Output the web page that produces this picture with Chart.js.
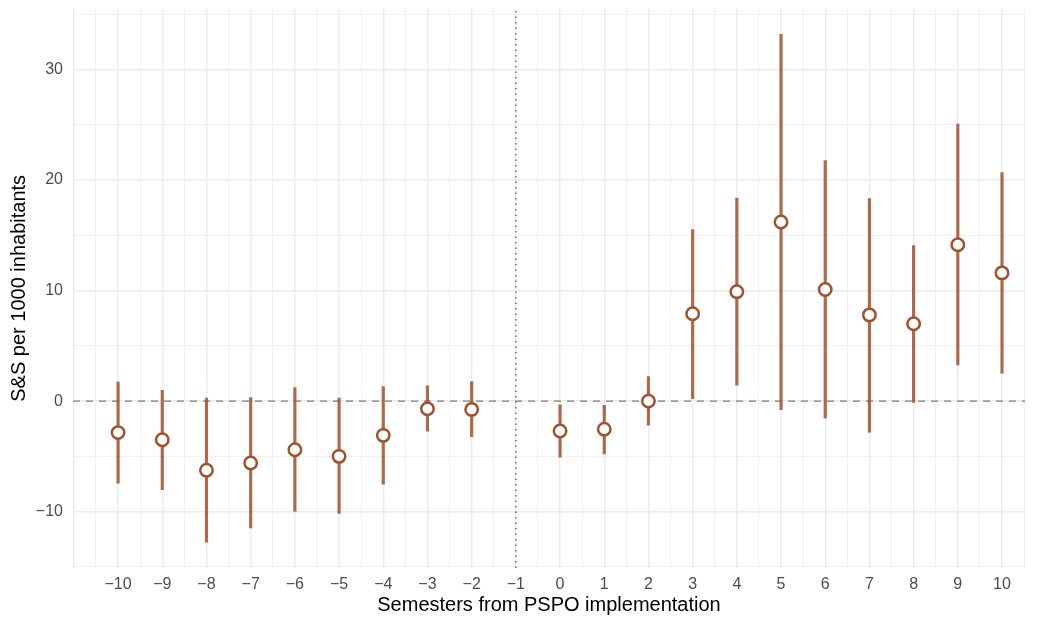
<!DOCTYPE html>
<html>
<head>
<meta charset="utf-8">
<script src="https://cdn.jsdelivr.net/npm/chart.js@4.4.1/dist/chart.umd.min.js"></script>
<style>
  html, body { margin: 0; padding: 0; background: #fff; }
  #wrap { width: 1039px; height: 618px; }
</style>
</head>
<body>
<div id="wrap"><canvas id="eventChart" width="1039" height="618"></canvas></div>
<script>
// semester offsets (no estimate at -1, the reference period)
const semesters = [-10, -9, -8, -7, -6, -5, -4, -3, -2, 0, 1, 2, 3, 4, 5, 6, 7, 8, 9, 10];
const estimates = [-2.85, -3.5, -6.25, -5.6, -4.4, -5.0, -3.1, -0.7, -0.75, -2.7, -2.55, 0.0, 7.9, 9.9, 16.2, 10.1, 7.8, 7.0, 14.15, 11.6];
const lowerCI   = [-7.45, -8.05, -12.8, -11.5, -10.0, -10.2, -7.55, -2.75, -3.25, -5.1, -4.8, -2.2, 0.2, 1.4, -0.8, -1.55, -2.85, -0.15, 3.25, 2.5];
const upperCI   = [1.75, 1.0, 0.3, 0.35, 1.25, 0.3, 1.35, 1.4, 1.8, -0.3, -0.35, 2.25, 15.55, 18.4, 33.2, 21.8, 18.35, 14.1, 25.1, 20.7];

const xTickValues = [-10, -9, -8, -7, -6, -5, -4, -3, -2, -1, 0, 1, 2, 3, 4, 5, 6, 7, 8, 9, 10];
const yTickValues = [-10, 0, 10, 20, 30];
const xRange = [-11.02, 10.52];
const yRange = [-15.1, 35.5];
const treatmentLine = -1;

const sienna = "#a0522d";
const barColor = "rgba(160, 82, 45, 0.85)";
const gridColor = "#ebebeb";
const textGrey = "#4d4d4d";

// error bars: one segment per semester, broken with null gaps
const ciSegments = [];
semesters.forEach((s, i) => {
  ciSegments.push({ x: s, y: lowerCI[i] });
  ciSegments.push({ x: s, y: upperCI[i] });
  ciSegments.push({ x: s, y: null });
});

// gridlines at every half step, labels only on the main ticks
function halfSteps(lo, hi, step) {
  const out = [];
  for (let v = lo; v <= hi + 1e-9; v += step) out.push({ value: Math.round(v * 100) / 100 });
  return out;
}
const minus = v => String(v).replace("-", "\u2212");

const font = "'Liberation Sans', Arial, Helvetica, sans-serif";

new Chart(document.getElementById("eventChart"), {
  type: "scatter",
  data: {
    datasets: [
      {
        label: "estimate",
        data: semesters.map((s, i) => ({ x: s, y: estimates[i] })),
        pointRadius: 6.2,
        pointHoverRadius: 6.2,
        pointBorderWidth: 2.5,
        pointBackgroundColor: "#ffffff",
        pointBorderColor: sienna,
        showLine: false,
        order: 0
      },
      {
        label: "ci",
        data: ciSegments,
        showLine: true,
        spanGaps: false,
        borderColor: barColor,
        borderWidth: 3.2,
        borderCapStyle: "butt",
        pointRadius: 0,
        order: 1
      },
      {
        label: "zero",
        data: [{ x: xRange[0], y: 0 }, { x: xRange[1], y: 0 }],
        showLine: true,
        borderColor: "#7f7f7f",
        borderWidth: 1.4,
        borderDash: [7, 6],
        pointRadius: 0,
        order: 2
      },
      {
        label: "treatment",
        data: [{ x: treatmentLine, y: yRange[0] }, { x: treatmentLine, y: yRange[1] }],
        showLine: true,
        borderColor: "#666666",
        borderWidth: 1.4,
        borderDash: [1.5, 4],
        pointRadius: 0,
        order: 2
      }
    ]
  },
  options: {
    responsive: false,
    animation: false,
    layout: { padding: { top: 6, right: 14, left: 0, bottom: 0 } },
    plugins: { legend: { display: false }, tooltip: { enabled: false } },
    scales: {
      x: {
        type: "linear",
        min: xRange[0],
        max: xRange[1],
        border: { display: false },
        afterBuildTicks: axis => { axis.ticks = halfSteps(-11, 10.5, 0.5); },
        afterFit: axis => {
          axis.height = 50;
          axis.paddingLeft = 0;
          axis.paddingRight = 0;
        },
        grid: {
          drawTicks: false,
          color: gridColor,
          lineWidth: ctx => (Number.isInteger(ctx.tick.value) ? 1.4 : 0.7)
        },
        ticks: {
          autoSkip: false,
          maxRotation: 0,
          padding: 7,
          color: textGrey,
          font: { family: font, size: 16 },
          callback: v => (xTickValues.includes(v) ? minus(v) : "")
        },
        title: {
          display: true,
          text: "Semesters from PSPO implementation",
          color: "#000",
          font: { family: font, size: 20 },
          padding: { top: 0, bottom: 1 }
        }
      },
      y: {
        type: "linear",
        min: yRange[0],
        max: yRange[1],
        border: { display: false },
        afterBuildTicks: axis => { axis.ticks = halfSteps(-15, 35, 5); },
        afterFit: axis => {
          axis.width = 73;
          axis.paddingTop = 0;
          axis.paddingBottom = 0;
        },
        grid: {
          drawTicks: false,
          color: gridColor,
          lineWidth: ctx => (yTickValues.includes(ctx.tick.value) ? 1.4 : 0.7)
        },
        ticks: {
          padding: 10,
          color: textGrey,
          font: { family: font, size: 16 },
          callback: v => (yTickValues.includes(v) ? minus(v) : "")
        },
        title: {
          display: true,
          text: "S&S per 1000 inhabitants",
          color: "#000",
          font: { family: font, size: 20 },
          padding: { top: 7, bottom: 0 }
        }
      }
    }
  }
});
</script>
</body>
</html>
